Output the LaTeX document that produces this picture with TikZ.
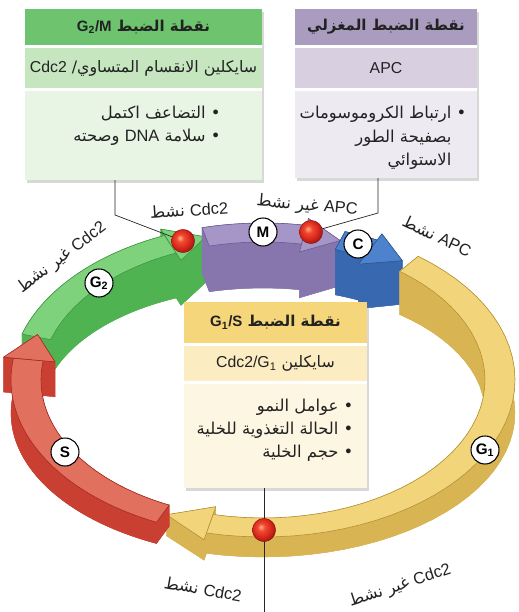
\documentclass[tikz,border=0pt]{standalone}
\usepackage{fontspec}
\setmainfont{Liberation Sans}
\newfontfamily\ar[Script=Arabic]{DejaVu Sans}
\TeXXeTstate=1
\usetikzlibrary{shadows}
\newcommand\lt[1]{\beginL{\rmfamily #1}\endL}
\definecolor{gHead}{HTML}{6EC46E}\definecolor{gBand}{HTML}{C6E6C0}\definecolor{gBody}{HTML}{E8F4E4}
\definecolor{pHead}{HTML}{A99CBF}\definecolor{pBand}{HTML}{D8D0E0}\definecolor{pBody}{HTML}{EEEAF2}
\definecolor{yHead}{HTML}{F6D67A}\definecolor{yBand}{HTML}{FBECC2}\definecolor{yBody}{HTML}{FDF6E2}
\definecolor{gTop}{HTML}{7FD27C}\definecolor{gWall}{HTML}{4FB352}\definecolor{gEdge}{HTML}{3C9440}
\definecolor{mTop}{HTML}{A696C8}\definecolor{mWall}{HTML}{8776AE}\definecolor{mEdge}{HTML}{6A5A92}
\definecolor{cTop}{HTML}{4D82CC}\definecolor{cWall}{HTML}{3868B0}\definecolor{cEdge}{HTML}{2B5590}
\definecolor{yTop}{HTML}{F2D47B}\definecolor{yWall}{HTML}{D8B453}\definecolor{yEdge}{HTML}{B39035}
\definecolor{rTop}{HTML}{E1705F}\definecolor{rWall}{HTML}{C93F32}\definecolor{rEdge}{HTML}{A02A20}
\definecolor{txt}{HTML}{222222}
\definecolor{rbA}{HTML}{FFB48C}\definecolor{rbB}{HTML}{F24A30}\definecolor{rbC}{HTML}{D9281D}\definecolor{rbD}{HTML}{A81A12}
\pgfdeclareradialshading{rball}{\pgfqpoint{-7bp}{7bp}}{color(0bp)=(rbA); color(8bp)=(rbB); color(19bp)=(rbC); color(27bp)=(rbD); color(50bp)=(rbD)}
\pgfmathdeclarefunction{ringx}{2}{\pgfmathparse{263+(#1)*cos(#2)}}
\pgfmathdeclarefunction{ringy}{3}{\pgfmathparse{380-(#1)*sin(#2)+(#3)*(33+13*sin(#2))}}
\def\Ao{252}\def\Bo{157}\def\Ai{222}\def\Bi{138}
\def\Aoe{262}\def\Boe{164}\def\Aie{210}\def\Bie{130}\def\Am{237}\def\Bm{147.5}
\newcommand\rp[4]{({ringx(#1,#3)},{ringy(#2,#3,#4)})}
% band walls: #1 start, #2 end, #3 wall colour
\newcommand\bandwalls[3]{%
\fill[#3,draw=#3,line width=0.2pt]
 plot[domain=#1:#2,samples=40,variable=\t] ({ringx(\Ao,\t)},{ringy(\Bo,\t,1)})
 -- plot[domain=#2:#1,samples=40,variable=\t] ({ringx(\Ai,\t)},{ringy(\Bi,\t,1)}) -- cycle;
\fill[#3,draw=#3,line width=0.2pt]
 plot[domain=#1:#2,samples=40,variable=\t] ({ringx(\Ao,\t)},{ringy(\Bo,\t,0)})
 -- plot[domain=#2:#1,samples=40,variable=\t] ({ringx(\Ao,\t)},{ringy(\Bo,\t,1)}) -- cycle;
\fill[#3,draw=#3,line width=0.2pt]
 plot[domain=#1:#2,samples=40,variable=\t] ({ringx(\Ai,\t)},{ringy(\Bi,\t,0)})
 -- plot[domain=#2:#1,samples=40,variable=\t] ({ringx(\Ai,\t)},{ringy(\Bi,\t,1)}) -- cycle;
\fill[#3,draw=#3,line width=0.2pt] \rp{\Ao}{\Bo}{#1}{0} -- \rp{\Ai}{\Bi}{#1}{0} -- \rp{\Ai}{\Bi}{#1}{1} -- \rp{\Ao}{\Bo}{#1}{1} -- cycle;
\fill[#3,draw=#3,line width=0.2pt] \rp{\Ao}{\Bo}{#2}{0} -- \rp{\Ai}{\Bi}{#2}{0} -- \rp{\Ai}{\Bi}{#2}{1} -- \rp{\Ao}{\Bo}{#2}{1} -- cycle;
}
\newcommand\bandtop[4]{%
\filldraw[fill=#3,draw=#4,line width=0.5pt]
 plot[domain=#1:#2,samples=40,variable=\t] ({ringx(\Ao,\t)},{ringy(\Bo,\t,0)})
 -- plot[domain=#2:#1,samples=40,variable=\t] ({ringx(\Ai,\t)},{ringy(\Bi,\t,0)}) -- cycle;
}
% head walls: #1 base, #2 tip, #3 wall colour
\newcommand\headwalls[3]{%
\fill[#3,draw=#3,line width=0.2pt] \rp{\Aoe}{\Boe}{#1}{1} -- \rp{\Am}{\Bm}{#2}{1} -- \rp{\Aie}{\Bie}{#1}{1} -- cycle;
\fill[#3,draw=#3,line width=0.2pt] \rp{\Aoe}{\Boe}{#1}{0} -- \rp{\Am}{\Bm}{#2}{0} -- \rp{\Am}{\Bm}{#2}{1} -- \rp{\Aoe}{\Boe}{#1}{1} -- cycle;
\fill[#3,draw=#3,line width=0.2pt] \rp{\Aie}{\Bie}{#1}{0} -- \rp{\Am}{\Bm}{#2}{0} -- \rp{\Am}{\Bm}{#2}{1} -- \rp{\Aie}{\Bie}{#1}{1} -- cycle;
\fill[#3,draw=#3,line width=0.2pt] \rp{\Aoe}{\Boe}{#1}{0} -- \rp{\Aie}{\Bie}{#1}{0} -- \rp{\Aie}{\Bie}{#1}{1} -- \rp{\Aoe}{\Boe}{#1}{1} -- cycle;
}
\newcommand\headtop[4]{%
\filldraw[fill=#3,draw=#4,line width=0.5pt,line join=round] \rp{\Aoe}{\Boe}{#1}{0} -- \rp{\Am}{\Bm}{#2}{0} -- \rp{\Aie}{\Bie}{#1}{0} -- cycle;
}
% segment: #1 start, #2 head base, #3 tip, #4 top, #5 wall, #6 edge
\newcommand\ringseg[6]{%
\headwalls{#2}{#3}{#5}\bandwalls{#1}{#2}{#5}\bandtop{#1}{#2}{#4}{#6}\headtop{#2}{#3}{#4}{#6}}
\begin{document}
\begin{tikzpicture}[x=0.03cm,y=-0.03cm,
 boxbg/.style={rectangle,fill=white,inner sep=0,drop shadow={shadow xshift=1.5pt,shadow yshift=-2.5pt,opacity=0.3}},
 band/.style={rectangle,inner sep=0,text=txt},
 headfont/.style={font=\ar\bfseries\fontsize{12.8}{15}\selectfont},
 bandfont/.style={font=\ar\fontsize{13.5}{16}\selectfont},
 bodytext/.style={align=right,text=txt,inner sep=0,font=\ar\fontsize{14}{19.5}\selectfont},
 ringlbl/.style={text=txt,inner sep=0,font=\ar\fontsize{14}{16}\selectfont},
 stage/.style={circle,draw=black,line width=0.9pt,fill=white,minimum size=0.84cm,inner sep=0,text=black,font=\rmfamily\bfseries\fontsize{13}{13}\selectfont},
 ballnode/.style={circle,minimum size=0.7cm,inner sep=0,shading=rball,draw=rbD!80!black,line width=0.3pt},
 anchorpt/.style={circle,minimum size=0.7cm,inner sep=0},
 conn/.style={draw=black!85,line width=0.6pt}]
\useasboundingbox[fill=white] (0,0) rectangle (518,612);

% ---- ring ----
\ringseg{163}{113}{104}{gTop}{gWall}{gEdge}
\ringseg{104}{80}{71}{mTop}{mWall}{mEdge}
\ringseg{71}{63}{54}{cTop}{cWall}{cEdge}
\ringseg{52}{-103}{-114}{yTop}{yWall}{yEdge}
\ringseg{245}{172}{162}{rTop}{rWall}{rEdge}

% ---- G2/M box ----
\node[boxbg,minimum width={237*0.03cm},minimum height={171*0.03cm}] (gmBox) at (143.5,94.5) {};
\node[band,fill=gHead,minimum width={237*0.03cm},minimum height={36*0.03cm},headfont] (gmHead) at (143.5,27) {\beginR نقطة الضبط \lt{G\textsubscript{2}/M}\endR};
\node[band,fill=gBand,minimum width={237*0.03cm},minimum height={40*0.03cm},bandfont] (gmBand) at (143.5,68) {\beginR سايكلين الانقسام المتساوي/ \lt{Cdc2}\endR};
\node[band,fill=gBody,minimum width={237*0.03cm},minimum height={89*0.03cm}] (gmBody) at (143.5,135.5) {};
\node[bodytext] (gmText) at (147,126) {\beginR • التضاعف اكتمل\endR\\\beginR • سلامة \lt{DNA} وصحته\endR};

% ---- spindle box ----
\node[boxbg,minimum width={182*0.03cm},minimum height={169*0.03cm}] (spBox) at (386,93.5) {};
\node[band,fill=pHead,minimum width={182*0.03cm},minimum height={36*0.03cm},headfont] (spHead) at (386,27) {\beginR نقطة الضبط المغزلي\endR};
\node[band,fill=pBand,minimum width={182*0.03cm},minimum height={40*0.03cm},bandfont] (spBand) at (386,68) {\rmfamily APC};
\node[band,fill=pBody,minimum width={182*0.03cm},minimum height={87*0.03cm}] (spBody) at (386,134.5) {};
\node[bodytext,font=\ar\fontsize{14}{20}\selectfont] (spText) at (383,138) {\beginR • ارتباط الكروموسومات\endR\\\beginR\hphantom{• }بصفيحة الطور\endR\\\beginR\hphantom{• }الاستوائي\endR};

% ---- G1/S box ----
\node[boxbg,minimum width={183*0.03cm},minimum height={186*0.03cm}] (gsBox) at (275.5,395) {};
\node[band,fill=yHead,minimum width={183*0.03cm},minimum height={41*0.03cm},headfont] (gsHead) at (275.5,322.5) {\beginR نقطة الضبط \lt{G\textsubscript{1}/S}\endR};
\node[band,fill=yBand,minimum width={183*0.03cm},minimum height={35*0.03cm},bandfont] (gsBand) at (275.5,363.5) {\beginR سايكلين \lt{Cdc2/G\textsubscript{1}}\endR};
\node[band,fill=yBody,minimum width={183*0.03cm},minimum height={104*0.03cm}] (gsBody) at (275.5,436) {};
\node[bodytext] (gsText) at (275,430) {\beginR • عوامل النمو\endR\\\beginR • الحالة التغذوية للخلية\endR\\\beginR • حجم الخلية\endR};

% ---- stage labels ----
\node[stage] (stM) at (263,232) {M};
\node[stage] (stC) at (358,244) {C};
\node[stage] (stG2) at (99,283) {G\textsubscript{2}};
\node[stage] (stS) at (65,452) {S};
\node[stage] (stG1) at (485,450) {G\textsubscript{1}};

% ---- connectors ----
\coordinate (gmBend) at (115,215);
\coordinate (spBend) at (378,213);
\coordinate (gsEnd) at (264,612);
\node[anchorpt] (bCdc) at (183,241) {};
\node[anchorpt] (bAPC) at (311,232) {};
\node[anchorpt] (bGS) at (264,530) {};
\draw[conn] (gmBody.south -| gmBend) -- (gmBend) -- (bCdc);
\draw[conn] (spBody.south -| spBend) -- (spBend) -- (bAPC);
\draw[conn] (gsBody.south -| gsEnd) -- (gsEnd);
\node[ballnode] (bCdcV) at (bCdc) {};
\node[ballnode] (bAPCV) at (bAPC) {};
\node[ballnode] (bGSV) at (bGS) {};

% ---- ring labels ----
\node[ringlbl,rotate=4] (l1) at (189,210) {\beginR\lt{Cdc2} نشط\endR};
\node[ringlbl,rotate=-5] (l2) at (307,206) {\beginR\lt{APC} غير نشط\endR};
\node[ringlbl,rotate=-25] (l3) at (437,236) {\beginR\lt{APC} نشط\endR};
\node[ringlbl,rotate=37] (l4) at (62,258) {\beginR\lt{Cdc2} غير نشط\endR};
\node[ringlbl,rotate=-10] (l5) at (203,589) {\beginR\lt{Cdc2} نشط\endR};
\node[ringlbl,rotate=18] (l6) at (400,586) {\beginR\lt{Cdc2} غير نشط\endR};
\end{tikzpicture}
\end{document}
